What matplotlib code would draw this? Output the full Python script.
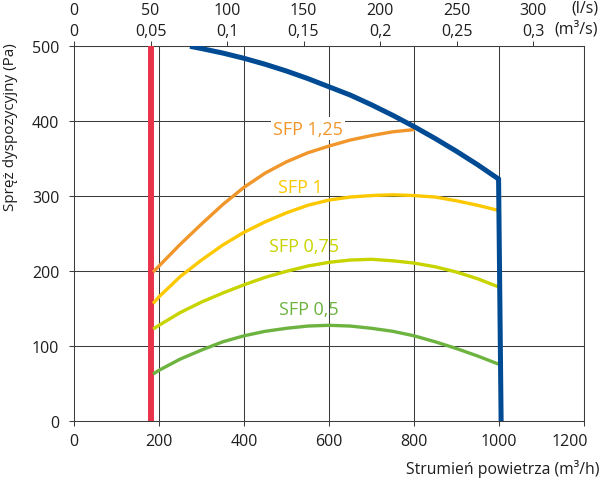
import matplotlib
matplotlib.use('Agg')
import matplotlib.pyplot as plt

plt.rcParams['font.family'] = ['Open Sans', 'DejaVu Sans']

# strumien (m3/h) -> spręż (Pa)
blue_x = [273, 300, 350, 400, 450, 500, 550, 600, 650, 700, 750, 800, 850, 900, 950, 999, 1005]
blue_y = [500, 497, 491, 484, 476, 467, 457, 446, 435, 422, 408, 393, 377, 360, 342, 323, 0]

red_x = 180

sfp125_x = [186, 200, 250, 300, 350, 400, 450, 500, 550, 600, 650, 700, 750, 802]
sfp125_y = [199, 207, 236, 263, 289, 312, 331, 346, 358, 367, 375, 381, 386, 389]

sfp1_x = [186, 200, 250, 300, 350, 400, 450, 500, 550, 600, 650, 700, 750, 800, 850, 900, 950, 1000]
sfp1_y = [157, 166, 193, 215, 235, 252, 266, 278, 288, 295, 299, 301, 302, 301, 299, 294, 288, 281]

sfp075_x = [186, 200, 250, 300, 350, 400, 450, 500, 550, 600, 650, 700, 750, 800, 850, 900, 950, 1000]
sfp075_y = [123, 128, 145, 159, 171, 182, 192, 200, 207, 212, 215, 216, 214, 211, 206, 199, 190, 179]

sfp05_x = [186, 200, 250, 300, 350, 400, 450, 500, 550, 600, 650, 700, 750, 800, 850, 900, 950, 1000]
sfp05_y = [63, 68, 83, 95, 106, 114, 120, 124, 127, 128, 127, 124, 120, 114, 106, 97, 87, 76]

ls_ticks = [0, 50, 100, 150, 200, 250, 300]
m3s_labels = ['0', '0,05', '0,1', '0,15', '0,2', '0,25', '0,3']
sfp_labels = ['SFP 1,25', 'SFP 1', 'SFP 0,75', 'SFP 0,5']
sfp_colors = ['#f0962a', '#fcc800', '#c8d400', '#6db33f']

fig = plt.figure(figsize=(6.01, 4.81), dpi=100)
ax = fig.add_axes([74/601, 1-422.3/481, 510/601, 375/481])

grid_c = '#3c3c3c'
txt_c = '#1e1e1e'
for v in [200, 400, 600, 800, 1000, 1200]:
    ax.axvline(v, color=grid_c, lw=0.75, zorder=1)
for v in [100, 200, 300, 400, 500]:
    ax.axhline(v, color=grid_c, lw=0.75, zorder=1)

ax.axvline(red_x, color='#e8334a', lw=4.3, zorder=3, solid_capstyle='butt')

series = [(sfp125_x, sfp125_y), (sfp1_x, sfp1_y), (sfp075_x, sfp075_y), (sfp05_x, sfp05_y)]
for (xx, yy), c in zip(series, sfp_colors):
    ax.plot(xx, yy, color=c, lw=2.4, zorder=4, solid_capstyle='butt', solid_joinstyle='round')

ax.plot(blue_x, blue_y, color='#004b93', lw=3.6, zorder=5, solid_capstyle='butt', solid_joinstyle='miter')

label_pos = [(550, 383.6), (532, 305.3), (541, 227.5), (553, 143)]
for i, (t, (lx, ly), c) in enumerate(zip(sfp_labels, label_pos, sfp_colors)):
    kw = {}
    if i == 0:
        kw['bbox'] = dict(facecolor='white', edgecolor='none', pad=1.5)
    ax.text(lx, ly, t, color=c, fontsize=13, ha='center', va='baseline', zorder=6, **kw)

ax.set_xlim(0, 1200)
ax.set_ylim(0, 500)
ax.set_xticks([0, 200, 400, 600, 800, 1000, 1200])
ax.set_xticklabels(['0', '200', '400', '600', '800', '1000', ''])
ax.set_yticks([0, 100, 200, 300, 400, 500])
for s in ax.spines.values():
    s.set_color(grid_c)
    s.set_linewidth(0.75)
ax.tick_params(axis='both', colors=grid_c, labelcolor=txt_c, labelsize=11.5, length=3.5, width=0.75)
ax.tick_params(axis='y', pad=7)
ax.tick_params(axis='x', pad=5)
ax.annotate('1200', xy=(1200, 0), xycoords=('data', 'axes fraction'), xytext=(-10, -3.5-5),
            textcoords='offset points', ha='center', va='top', fontsize=11.5, color=txt_c)

top = ax.secondary_xaxis('top')
top.set_xticks([v*3.6 for v in ls_ticks])
top.set_xticklabels(['%d\n%s' % (a, b) for a, b in zip(ls_ticks, m3s_labels)], linespacing=1.4)
top.tick_params(colors=grid_c, labelcolor=txt_c, labelsize=11.5, length=3.5, width=0.75, pad=2)
top.spines['top'].set_visible(False)

fig.text(598/601, 1-19/481, '(l/s)\n(m³/s)', ha='right', va='center', fontsize=11.5,
         linespacing=1.4, color=txt_c)
fig.text(599/601, 1-469/481, 'Strumień powietrza (m³/h)', ha='right', va='center',
         fontsize=11.3, color=txt_c)
fig.text(11/601, 1-127/481, 'Spręż dyspozycyjny (Pa)', rotation=90, ha='center', va='center',
         fontsize=11, color=txt_c)

fig.savefig('out.png', dpi=100)
